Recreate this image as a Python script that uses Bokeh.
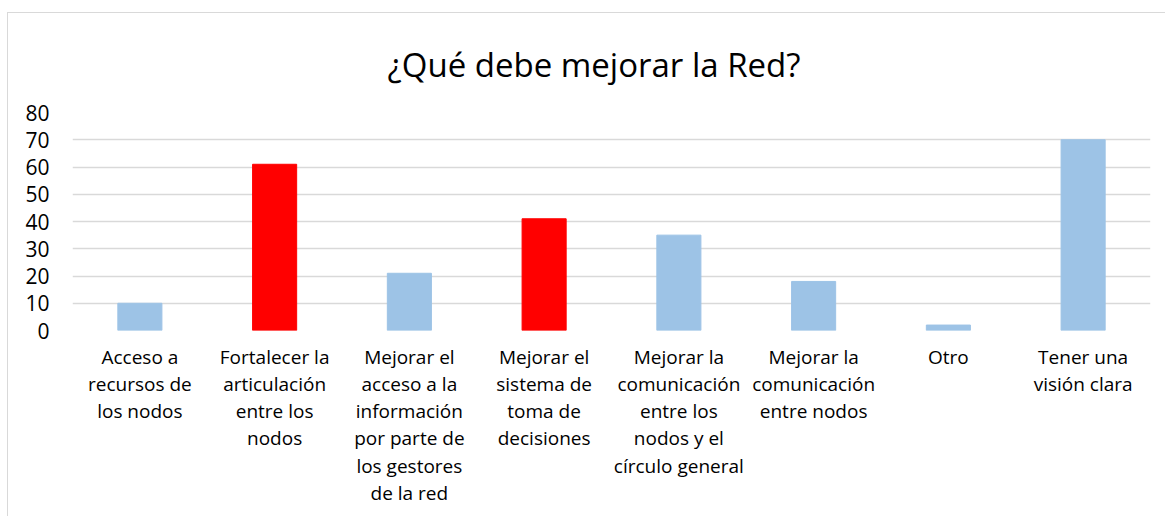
from bokeh.plotting import figure
from bokeh.models import ColumnDataSource, FixedTicker
from bokeh.embed import file_html
from bokeh.resources import INLINE

categories = [
    "Acceso a\nrecursos de\nlos nodos",
    "Fortalecer la\narticulación\nentre los\nnodos",
    "Mejorar el\nacceso a la\ninformación\npor parte de\nlos gestores\nde la red",
    "Mejorar el\nsistema de\ntoma de\ndecisiones",
    "Mejorar la\ncomunicación\nentre los\nnodos y el\ncírculo general",
    "Mejorar la\ncomunicación\nentre nodos",
    "Otro",
    "Tener una\nvisión clara",
]
values = [10, 61, 21, 41, 35, 18, 2, 70]
colors = ["#9DC3E6", "#FF0000", "#9DC3E6", "#FF0000", "#9DC3E6", "#9DC3E6", "#9DC3E6", "#9DC3E6"]
y_ticks = [0, 10, 20, 30, 40, 50, 60, 70, 80]

src = ColumnDataSource(dict(cat=categories, val=values, color=colors))

FONT = "Open Sans"
p = figure(
    x_range=categories, y_range=(0, 80),
    width=1158, height=504,
    output_backend="svg", toolbar_location=None,
    title="¿Qué debe mejorar la Red?",
    min_border_left=64, min_border_right=16, min_border_top=99, min_border_bottom=187,
)
p.margin = (12, 0, 0, 7)
p.styles = {"border-top": "1px solid #d9d9d9", "border-left": "1px solid #d9d9d9"}

p.vbar(x="cat", top="val", width=0.327, color="color", source=src)

p.title.align = "left"
p.title.offset = 315
p.title.text_font = FONT
p.title.text_font_size = "33px"
p.title.text_font_style = "normal"
p.title.text_color = "#000000"
p.title.standoff = 52

p.outline_line_color = None
p.xgrid.grid_line_color = None
p.ygrid.grid_line_color = "#d9d9d9"
p.ygrid.grid_line_width = 1.5
p.yaxis.ticker = FixedTicker(ticks=y_ticks)

for ax in (p.xaxis, p.yaxis):
    ax.axis_line_color = None
    ax.major_tick_line_color = None
    ax.minor_tick_line_color = None
    ax.major_label_text_font = FONT
    ax.major_label_text_color = "#000000"

p.yaxis.major_label_text_font_size = "21px"
p.xaxis.major_label_text_font_size = "19px"
p.yaxis.major_label_standoff = 17
p.xaxis.major_label_standoff = 7
p.xaxis.major_label_text_line_height = 1.05

open("out.html", "w").write(file_html(p, INLINE))
